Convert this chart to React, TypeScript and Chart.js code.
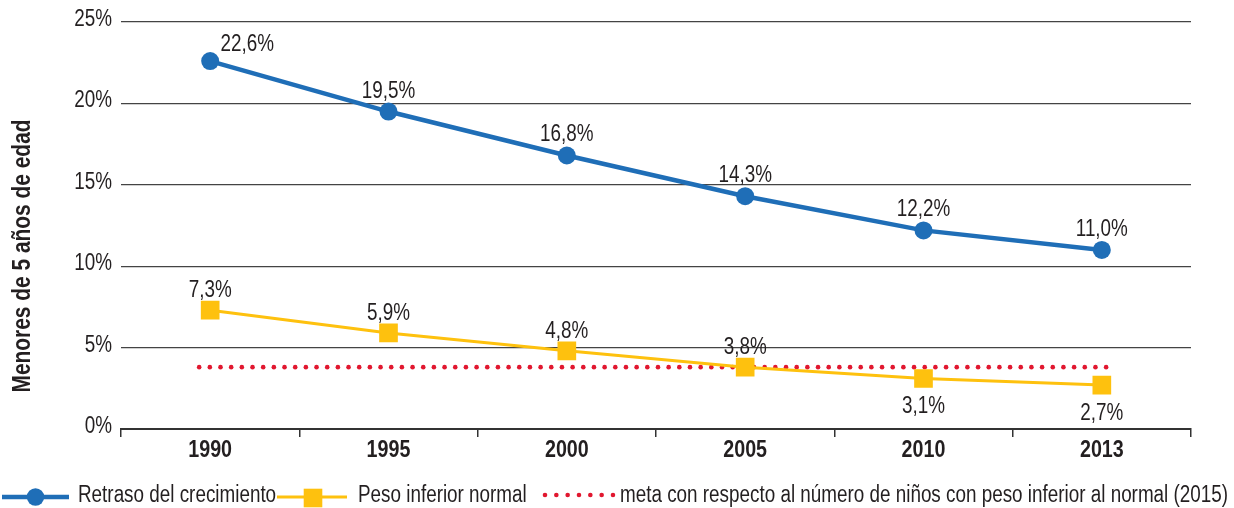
import React, { useEffect, useRef } from 'react';
import { Chart, registerables } from 'chart.js';

Chart.register(...registerables);

// ---- data ----
const years = ['1990', '1995', '2000', '2005', '2010', '2013'];
const retraso = [22.6, 19.5, 16.8, 14.3, 12.2, 11.0];
const pesoInferior = [7.3, 5.9, 4.8, 3.8, 3.1, 2.7];
const metaValue = 3.8;
const yTicks = [0, 5, 10, 15, 20, 25];
const seriesNames = [
  'Retraso del crecimiento',
  'Peso inferior normal',
  'meta con respecto al número de niños con peso inferior al normal (2015)',
];
const yTitle = 'Menores de 5 años de edad';

// ---- style ----
const BLUE = '#1f6eb7';
const YELLOW = '#fec10e';
const RED = '#e1172f';
const TEXT = '#231f20';
const FONT = '"Liberation Sans", Arial, sans-serif';
const NARROW = 0.82; // horizontal condensing of text

const fmt = (v: number) => v.toFixed(1).replace('.', ',') + '%';

const W = 1234;
const H = 508;

const drawDots = (ctx: CanvasRenderingContext2D, x0: number, x1: number, y: number, step: number, r: number) => {
  ctx.fillStyle = RED;
  for (let x = x0; x <= x1 + 0.1; x += step) {
    ctx.beginPath();
    ctx.arc(x, y, r, 0, Math.PI * 2);
    ctx.fill();
  }
};

const text = (
  ctx: CanvasRenderingContext2D,
  s: string,
  x: number,
  y: number,
  font: string,
  align: CanvasTextAlign,
  baseline: CanvasTextBaseline = 'alphabetic',
  rot = 0
) => {
  ctx.save();
  ctx.translate(x, y);
  if (rot) ctx.rotate(rot);
  ctx.scale(NARROW, 1);
  ctx.font = font;
  ctx.textAlign = align;
  ctx.textBaseline = baseline;
  ctx.fillStyle = TEXT;
  ctx.fillText(s, 0, 0);
  ctx.restore();
};

const customPlugin = {
  id: 'custom',
  beforeDatasetsDraw(chart: any) {
    const { ctx, scales } = chart;
    const xs = scales.x;
    const ys = scales.y;
    const y = ys.getPixelForValue(metaValue);
    const x0 = xs.getPixelForValue(0) - 11;
    const x1 = xs.getPixelForValue(years.length - 1) + 5;
    ctx.save();
    drawDots(ctx, x0, x1, y, 10.67, 2.3);
    ctx.restore();
  },
  afterDatasetsDraw(chart: any) {
    const { ctx, scales } = chart;
    const xs = scales.x;
    const ys = scales.y;
    ctx.save();

    // tick labels
    yTicks.forEach((v) => {
      text(ctx, v + '%', 112, ys.getPixelForValue(v) + 4, `23px ${FONT}`, 'right');
    });
    years.forEach((lab, i) => {
      text(ctx, lab, xs.getPixelForValue(i), 457, `bold 24px ${FONT}`, 'center');
    });

    // blue labels
    const m0 = chart.getDatasetMeta(0);
    m0.data.forEach((pt: any, i: number) => {
      const dx = i === 0 ? 37 : 0;
      const dy = i === 0 ? -10 : -14;
      text(ctx, fmt(retraso[i]), pt.x + dx, pt.y + dy, `23px ${FONT}`, 'center');
    });
    // yellow labels
    const m1 = chart.getDatasetMeta(1);
    m1.data.forEach((pt: any, i: number) => {
      const below = i >= 4;
      text(ctx, fmt(pesoInferior[i]), pt.x, pt.y + (below ? 34.5 : -13), `23px ${FONT}`, 'center');
    });

    // y-axis title
    text(ctx, yTitle, 23, 256, `bold 25.5px ${FONT}`, 'center', 'middle', -Math.PI / 2);

    // legend
    const ly = 497;
    // blue
    ctx.strokeStyle = BLUE;
    ctx.lineWidth = 4.5;
    ctx.beginPath();
    ctx.moveTo(2, ly);
    ctx.lineTo(69, ly);
    ctx.stroke();
    ctx.fillStyle = BLUE;
    ctx.beginPath();
    ctx.arc(35.5, ly, 8.7, 0, Math.PI * 2);
    ctx.fill();
    text(ctx, seriesNames[0], 78, 502, `23px ${FONT}`, 'left');
    // yellow
    ctx.strokeStyle = YELLOW;
    ctx.lineWidth = 3;
    ctx.beginPath();
    ctx.moveTo(277, ly);
    ctx.lineTo(347, ly);
    ctx.stroke();
    ctx.fillStyle = YELLOW;
    ctx.fillRect(313 - 9.3, 498 - 9.3, 18.6, 18.6);
    text(ctx, seriesNames[1], 358, 502, `23px ${FONT}`, 'left');
    // red
    drawDots(ctx, 545, 613, 495, 11.33, 2.3);
    text(ctx, seriesNames[2], 620, 502, `23px ${FONT}`, 'left');
    ctx.restore();
  },
};

export default function App() {
  const ref = useRef<HTMLCanvasElement | null>(null);

  useEffect(() => {
    document.body.style.margin = '0';
    const canvas = ref.current;
    if (!canvas) return;
    const chart = new Chart(canvas, {
      type: 'line',
      data: {
        labels: years,
        datasets: [
          {
            label: seriesNames[0],
            data: retraso,
            borderColor: BLUE,
            backgroundColor: BLUE,
            borderWidth: 4.5,
            pointRadius: 9,
            pointStyle: 'circle',
            pointBackgroundColor: BLUE,
            pointBorderWidth: 0,
            tension: 0,
          },
          {
            label: seriesNames[1],
            data: pesoInferior,
            borderColor: YELLOW,
            backgroundColor: YELLOW,
            borderWidth: 3,
            pointRadius: 13.2,
            pointStyle: 'rect',
            pointBackgroundColor: YELLOW,
            pointBorderWidth: 0,
            tension: 0,
          },
        ],
      },
      options: {
        responsive: false,
        animation: false,
        layout: { padding: { top: 22, right: 43, left: 0, bottom: 0 } },
        plugins: {
          legend: { display: false },
          tooltip: { enabled: false },
        },
        scales: {
          x: {
            type: 'category',
            offset: true,
            grid: {
              display: true,
              drawOnChartArea: false,
              drawTicks: true,
              tickLength: 8,
              offset: true,
              color: '#333',
              lineWidth: 1.5,
            },
            border: { display: true, color: '#333', width: 2 },
            ticks: { display: false, autoSkip: false, maxRotation: 0 },
            afterFit: (s: any) => {
              s.height = 79;
            },
          },
          y: {
            min: 0,
            max: 25,
            afterBuildTicks: (s: any) => {
              s.ticks = yTicks.map((v) => ({ value: v }));
            },
            grid: { color: '#444', lineWidth: 1.2, drawTicks: false },
            border: { display: false },
            ticks: { display: false },
            afterFit: (s: any) => {
              s.width = 121;
            },
          },
        },
      } as any,
      plugins: [customPlugin],
    });
    return () => chart.destroy();
  }, []);

  return (
    <div style={{ width: W, height: H }}>
      <canvas ref={ref} width={W} height={H} style={{ display: 'block', width: W, height: H }} />
    </div>
  );
}
